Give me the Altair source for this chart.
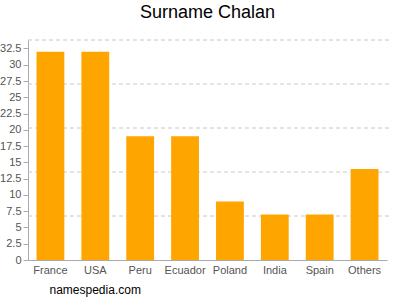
import altair as alt
import pandas as pd

countries = ["France", "USA", "Peru", "Ecuador", "Poland", "India", "Spain", "Others"]
counts = [32, 32, 19, 19, 9, 7, 7, 14]
y_ticks = [0, 2.5, 5, 7.5, 10, 12.5, 15, 17.5, 20, 22.5, 25, 27.5, 30, 32.5]
y_max = 33.8
grid_values = [y_max * i / 5 for i in range(1, 6)]

df = pd.DataFrame({"country": countries, "count": counts})
grid_df = pd.DataFrame({"g": grid_values})

FONT = "Liberation Sans"
W, H = 359, 220

yscale = alt.Scale(domain=[0, y_max], nice=False, zero=True)

grid = alt.Chart(grid_df).mark_rule(
    color="#c8c8c8", strokeDash=[4, 3], strokeWidth=1
).encode(
    y=alt.Y("g:Q", scale=yscale, axis=None),
    x=alt.value(0),
    x2=alt.value(W + 3),
)

bars = alt.Chart(df).mark_bar(color="#FFA500").encode(
    x=alt.X(
        "country:N",
        sort=countries,
        scale=alt.Scale(paddingInner=0.38, paddingOuter=0.19),
        axis=alt.Axis(
            title="namespedia.com",
            titleFont=FONT,
            titleFontSize=12,
            titleFontWeight="normal",
            titleColor="#000000",
            titleAnchor="start",
            titleAlign="left",
            titleBaseline="top",
            titleX=21,
            titleY=24,
            labelAngle=0,
            labelFont=FONT,
            labelFontSize=11,
            labelColor="#555555",
            labelPadding=4,
            ticks=False,
            domainColor="#aaaaaa",
            grid=False,
        ),
    ),
    y=alt.Y(
        "count:Q",
        scale=yscale,
        axis=alt.Axis(
            title=None,
            values=y_ticks,
            format=".1~f",
            labelFont=FONT,
            labelFontSize=11,
            labelColor="#555555",
            labelPadding=2,
            tickSize=5,
            tickColor="#aaaaaa",
            domainColor="#aaaaaa",
            grid=False,
        ),
    ),
)

chart = alt.layer(grid, bars).resolve_axis(y="independent").properties(
    width=W,
    height=H,
    title=alt.TitleParams(
        "Surname Chalan",
        font=FONT,
        fontSize=18,
        fontWeight="normal",
        color="#000000",
        anchor="middle",
        offset=18,
    ),
    autosize=alt.AutoSizeParams(type="none"),
    padding={"left": 28, "top": 40, "right": 13, "bottom": 40},
).configure_view(stroke=None)

chart.save("out.html", embed_options={"renderer": "svg", "actions": False})
